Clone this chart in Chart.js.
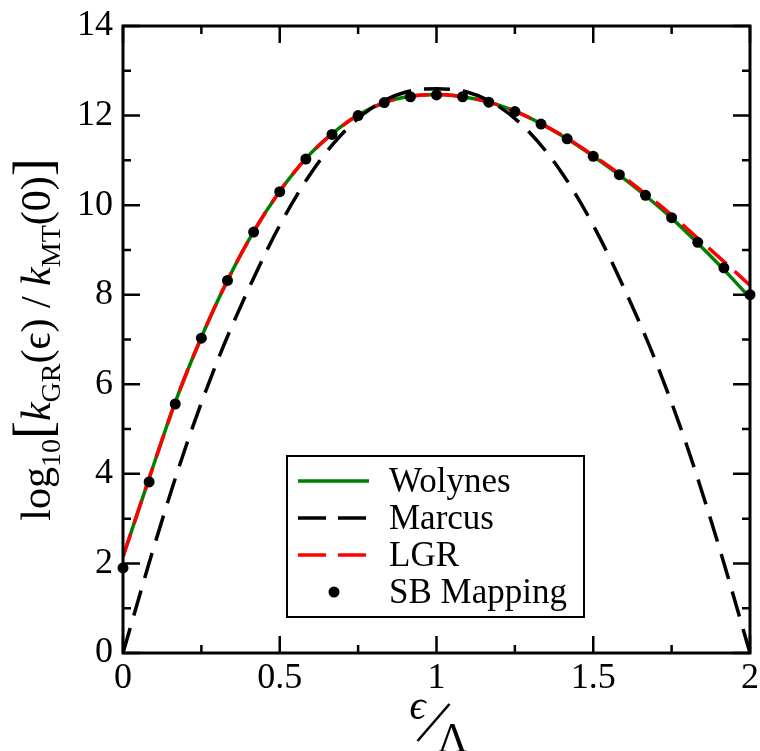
<!DOCTYPE html>
<html>
<head>
<meta charset="utf-8">
<title>Rate vs driving force</title>
<script src="https://cdn.jsdelivr.net/npm/chart.js@4.4.0/dist/chart.umd.min.js"></script>
<style>
  html, body { margin: 0; padding: 0; background: #fff; }
  #wrap { width: 760px; height: 751px; position: relative; }
</style>
</head>
<body>
<div id="wrap"><canvas id="rateChart"></canvas></div>
<script>
// epsilon / Lambda grid for the SB points and the Wolynes / LGR curves
const gridX = [0, 0.0833, 0.1667, 0.25, 0.3333, 0.4167, 0.5, 0.5833, 0.6667, 0.75, 0.8333, 0.9167,
               1, 1.0833, 1.1667, 1.25, 1.3333, 1.4167, 1.5, 1.5833, 1.6667, 1.75, 1.8333, 1.9167, 2];
const sbMapping = [1.9, 3.82, 5.56, 7.03, 8.32, 9.4, 10.3, 11.03, 11.58, 12.0, 12.29, 12.42,
                   12.46, 12.42, 12.3, 12.09, 11.81, 11.48, 11.09, 10.68, 10.22, 9.72, 9.17, 8.6, 8.0];
const wolynes = [2.15, 3.9, 5.6, 7.05, 8.32, 9.41, 10.31, 11.04, 11.59, 12.01, 12.29, 12.43,
                 12.47, 12.42, 12.3, 12.1, 11.82, 11.48, 11.09, 10.67, 10.21, 9.71, 9.15, 8.56, 7.93];
const lgr = [2.15, 3.9, 5.6, 7.05, 8.32, 9.41, 10.31, 11.04, 11.59, 12.01, 12.29, 12.43,
             12.47, 12.42, 12.3, 12.1, 11.82, 11.49, 11.11, 10.7, 10.25, 9.78, 9.26, 8.74, 8.21];

// Marcus parabola, sampled every 0.1
const marcusX = [0, 0.1, 0.2, 0.3, 0.4, 0.5, 0.6, 0.7, 0.8, 0.9, 1,
                 1.1, 1.2, 1.3, 1.4, 1.5, 1.6, 1.7, 1.8, 1.9, 2];
const marcus = [0, 2.4, 4.6, 6.5, 8.12, 9.55, 10.72, 11.6, 12.2, 12.52, 12.6,
                12.52, 12.2, 11.6, 10.72, 9.55, 8.12, 6.5, 4.6, 2.4, 0];

const xTicks = [0, 0.5, 1, 1.5, 2];
const xMinor = [0.25, 0.75, 1.25, 1.75];
const yTicks = [0, 2, 4, 6, 8, 10, 12, 14];
const yMinor = [1, 3, 5, 7, 9, 11, 13];

const SERIF = "'Liberation Serif', 'Times New Roman', serif";

const pts = (xs, ys) => xs.map((x, i) => ({ x: x, y: ys[i] }));

// frame, inward ticks, axis titles and the boxed legend
const decorations = {
  id: 'decorations',
  afterDraw(chart) {
    const ctx = chart.ctx;
    const a = chart.chartArea;
    const xs = chart.scales.x, ys = chart.scales.y;
    ctx.save();
    ctx.strokeStyle = '#000';
    ctx.lineCap = 'butt';

    // ticks on all four sides
    ctx.lineWidth = 2.5;
    const tick = (vals, len) => {
      vals.forEach(v => {
        const px = xs.getPixelForValue(v);
        ctx.beginPath();
        ctx.moveTo(px, a.bottom); ctx.lineTo(px, a.bottom - len);
        ctx.moveTo(px, a.top); ctx.lineTo(px, a.top + len);
        ctx.stroke();
      });
    };
    const tickY = (vals, len) => {
      vals.forEach(v => {
        const py = ys.getPixelForValue(v);
        ctx.beginPath();
        ctx.moveTo(a.left, py); ctx.lineTo(a.left + len, py);
        ctx.moveTo(a.right, py); ctx.lineTo(a.right - len, py);
        ctx.stroke();
      });
    };
    tick(xTicks, 17); tick(xMinor, 8);
    tickY(yTicks, 17); tickY(yMinor, 8);

    ctx.lineWidth = 3;
    ctx.strokeRect(a.left, a.top, a.right - a.left, a.bottom - a.top);

    // y title: log10[kGR(ϵ) / kMT(0)]
    const parts = [
      { t: 'log', size: 42, dy: 0 },
      { t: '10', size: 28, dy: 10 },
      { t: '[', size: 54, dy: 1 },
      { t: 'k', size: 42, dy: 0, style: 'italic ' },
      { t: 'GR', size: 28, dy: 10 },
      { t: '(ϵ) / ', size: 42, dy: 0 },
      { t: 'k', size: 42, dy: 0, style: 'italic ' },
      { t: 'MT', size: 28, dy: 10 },
      { t: '(0)', size: 42, dy: 0 },
      { t: ']', size: 54, dy: 1 }
    ];
    let total = 0;
    parts.forEach(p => {
      ctx.font = (p.style || '') + p.size + 'px ' + SERIF;
      p.w = ctx.measureText(p.t).width;
      total += p.w;
    });
    ctx.translate(50, (a.top + a.bottom) / 2);
    ctx.rotate(-Math.PI / 2);
    ctx.fillStyle = '#000';
    ctx.textBaseline = 'alphabetic';
    ctx.textAlign = 'left';
    let cx = -total / 2;
    parts.forEach(p => {
      ctx.font = (p.style || '') + p.size + 'px ' + SERIF;
      ctx.fillText(p.t, cx, p.dy);
      cx += p.w;
    });
    ctx.setTransform(1, 0, 0, 1, 0, 0);

    // x title: ϵ ⁄ Λ
    const mid = (a.left + a.right) / 2;
    ctx.font = 'italic 40px ' + SERIF;
    ctx.fillText('ϵ', mid - 27, 719);
    ctx.lineWidth = 2.5;
    ctx.beginPath();
    ctx.moveTo(mid - 19, 741);
    ctx.lineTo(mid + 13, 704);
    ctx.stroke();
    ctx.font = '42px ' + SERIF;
    ctx.fillText('Λ', mid + 1, 752);

    // legend
    const box = { left: 287, top: 456, w: 297, h: 161 };
    ctx.fillStyle = '#fff';
    ctx.fillRect(box.left, box.top, box.w, box.h);
    ctx.lineWidth = 2;
    ctx.strokeStyle = '#000';
    ctx.strokeRect(box.left, box.top, box.w, box.h);
    ctx.font = '35px ' + SERIF;
    ctx.textBaseline = 'middle';
    chart.data.datasets.forEach((ds, i) => {
      const y = box.top + 25 + i * 37;
      if (ds.showLine) {
        ctx.strokeStyle = ds.borderColor;
        ctx.lineWidth = ds.borderWidth;
        ctx.setLineDash(ds.legendDash || []);
        ctx.beginPath();
        ctx.moveTo(box.left + 11, y);
        ctx.lineTo(box.left + 82, y);
        ctx.stroke();
        ctx.setLineDash([]);
      } else {
        ctx.fillStyle = ds.backgroundColor;
        ctx.beginPath();
        ctx.arc(box.left + 47, y, ds.pointRadius, 0, Math.PI * 2);
        ctx.fill();
      }
      ctx.fillStyle = '#000';
      ctx.fillText(ds.label, box.left + 102, y + 2);
    });
    ctx.restore();
  }
};

const lineStyle = (label, xs, ys, color, dash, order) => ({
  label: label,
  data: pts(xs, ys),
  showLine: true,
  borderColor: color,
  borderWidth: 3.5,
  borderDash: dash,
  legendDash: dash.length ? [28, 12] : [],
  pointRadius: 0,
  cubicInterpolationMode: 'monotone',
  order: order
});

// keep the end labels from pushing the plot area inwards
const noOverhang = s => {
  s.paddingLeft = 0; s.paddingRight = 0;
  s.paddingTop = 0; s.paddingBottom = 0;
};

new Chart(document.getElementById('rateChart'), {
  type: 'scatter',
  data: {
    datasets: [
      lineStyle('Wolynes', gridX, wolynes, '#008000', [], 3),
      lineStyle('Marcus', marcusX, marcus, '#000000', [26, 13], 1),
      lineStyle('LGR', gridX, lgr, '#ff0000', [24, 11], 2),
      {
        label: 'SB Mapping',
        data: pts(gridX, sbMapping),
        showLine: false,
        backgroundColor: '#000',
        borderWidth: 0,
        pointRadius: 5.5,
        clip: false,
        order: 0
      }
    ]
  },
  options: {
    responsive: true,
    maintainAspectRatio: false,
    animation: false,
    layout: { padding: { top: 26, right: 10, left: 0, bottom: 0 } },
    plugins: { legend: { display: false }, tooltip: { enabled: false } },
    scales: {
      x: {
        type: 'linear',
        min: 0, max: 2,
        afterFit: s => { s.height = 98; noOverhang(s); },
        afterBuildTicks: s => { s.ticks = xTicks.map(v => ({ value: v })); },
        grid: { display: false, drawTicks: false },
        border: { display: false },
        ticks: { color: '#000', padding: 4, font: { family: SERIF, size: 36 },
                 callback: v => String(v) }
      },
      y: {
        type: 'linear',
        min: 0, max: 14,
        afterFit: s => { s.width = 123; noOverhang(s); },
        afterBuildTicks: s => { s.ticks = yTicks.map(v => ({ value: v })); },
        grid: { display: false, drawTicks: false },
        border: { display: false },
        ticks: { color: '#000', padding: 10, font: { family: SERIF, size: 36 },
                 callback: v => String(v) }
      }
    }
  },
  plugins: [decorations]
});
</script>
</body>
</html>
